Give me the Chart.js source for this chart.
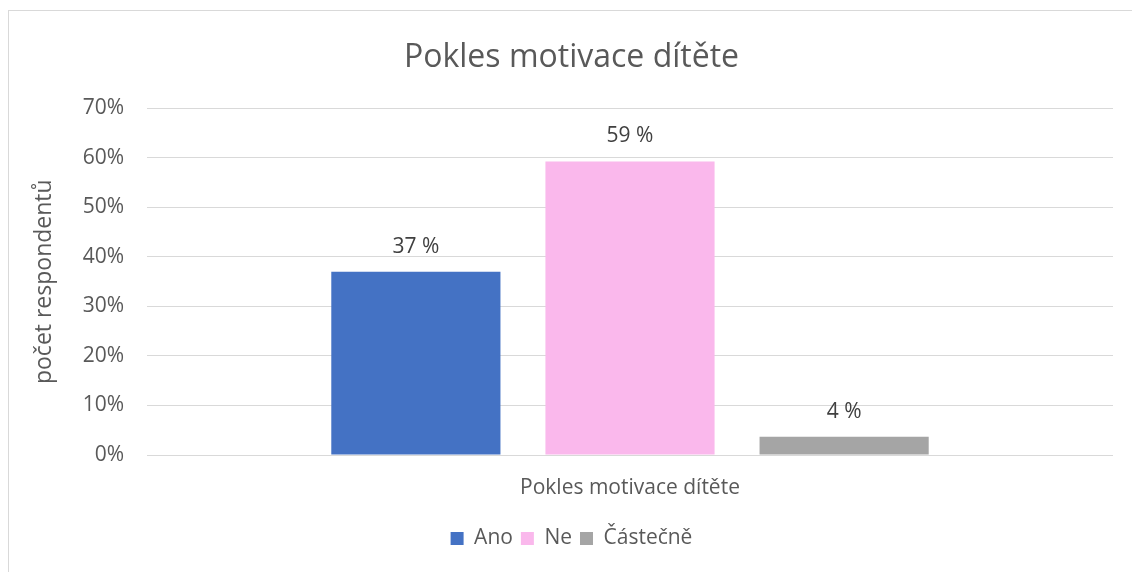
<!DOCTYPE html>
<html>
<head>
<meta charset="utf-8">
<script src="https://cdn.jsdelivr.net/npm/chart.js@4"></script>
<style>
  html, body { margin: 0; padding: 0; background: #fff; overflow: hidden; }
  #frame { position: absolute; left: 8px; top: 10px; width: 1200px; height: 700px; border: 1px solid #d9d9d9; }
  #wrap { position: absolute; left: 0; top: 0; width: 1132px; height: 572px; }
</style>
</head>
<body>
<div id="frame"></div>
<div id="wrap"><canvas id="chart"></canvas></div>
<script>
const categories = ['Pokles motivace dítěte'];
const seriesNames = ['Ano', 'Ne', 'Částečně'];
const seriesValues = [[37], [59.3], [3.7]];
const seriesColors = ['#4472C4', '#FAB8EC', '#A5A5A5'];
const yTicks = [0, 10, 20, 30, 40, 50, 60, 70];

const fontFamily = '"Open Sans", sans-serif';
const grey = '#595959';

// simple data labels above bars
const barLabels = {
    id: 'barLabels',
    afterDatasetsDraw(chart) {
        const ctx = chart.ctx;
        ctx.save();
        ctx.font = '21px ' + fontFamily;
        ctx.fillStyle = '#404040';
        ctx.textAlign = 'center';
        ctx.textBaseline = 'middle';
        chart.data.datasets.forEach((ds, i) => {
            chart.getDatasetMeta(i).data.forEach((bar, j) => {
                ctx.fillText(Math.round(ds.data[j]) + ' %', bar.x, bar.y - 25);
            });
        });
        ctx.restore();
    }
};

new Chart(document.getElementById('chart'), {
    type: 'bar',
    data: {
        labels: categories,
        datasets: seriesNames.map((name, i) => ({
            label: name,
            data: seriesValues[i],
            backgroundColor: seriesColors[i],
            borderWidth: 0,
            categoryPercentage: 0.665,
            barPercentage: 0.79
        }))
    },
    options: {
        responsive: true,
        maintainAspectRatio: false,
        animation: false,
        layout: { padding: { left: 30, right: 19, top: 10, bottom: 13 } },
        plugins: {
            title: {
                display: true,
                text: 'Pokles motivace dítěte',
                color: grey,
                font: { family: fontFamily, size: 32, weight: 'normal' },
                padding: { top: 29, bottom: 31 }
            },
            legend: {
                position: 'bottom',
                labels: {
                    color: grey,
                    font: { family: fontFamily, size: 21 },
                    boxWidth: 13,
                    boxHeight: 13,
                    padding: 8
                }
            },
            tooltip: { enabled: false }
        },
        scales: {
            x: {
                grid: { display: false },
                border: { display: false },
                ticks: { color: grey, font: { family: fontFamily, size: 21 }, padding: 12 },
                afterFit(scale) { scale.height = 65; }
            },
            y: {
                min: 0,
                max: 70,
                afterBuildTicks(scale) { scale.ticks = yTicks.map(v => ({ value: v })); },
                grid: { color: '#d9d9d9', lineWidth: 1, drawTicks: false },
                border: { display: false },
                ticks: {
                    color: grey,
                    font: { family: fontFamily, size: 21 },
                    padding: 23,
                    callback: v => v + '%'
                },
                title: {
                    display: true,
                    text: 'počet respondentů',
                    color: grey,
                    font: { family: fontFamily, size: 23 },
                    padding: { top: 1, bottom: 0 }
                },
                afterFit(scale) { scale.width = 117; }
            }
        }
    },
    plugins: [barLabels]
});
</script>
</body>
</html>
